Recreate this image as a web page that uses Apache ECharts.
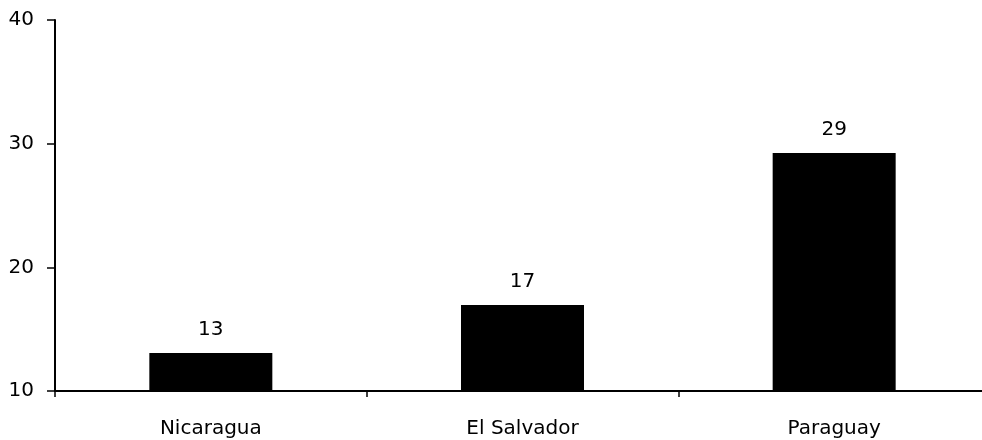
<!DOCTYPE html>
<html>
<head>
<meta charset="utf-8">
<script src="https://cdn.jsdelivr.net/npm/echarts@6/dist/echarts.min.js"></script>
<style>html,body{margin:0;padding:0;background:#fff}#c{width:982px;height:440px}</style>
</head>
<body>
<div id="c"></div>
<script>
const categories = ["Nicaragua", "El Salvador", "Paraguay"];
const values = [13.07, 16.95, 29.25];
const yTicks = [10, 20, 30, 40];

const chart = echarts.init(document.getElementById('c'), null, {renderer: 'canvas'});
const font = '"DejaVu Sans", sans-serif';
chart.setOption({
  animation: false,
  backgroundColor: '#fff',
  grid: {left: 55, width: 935, top: 20, bottom: 49, containLabel: false, outerBoundsMode: 'none'},
  xAxis: {
    type: 'category',
    data: categories,
    boundaryGap: true,
    axisLine: {lineStyle: {color: '#000', width: 2}},
    axisTick: {show: true, length: 6, lineStyle: {color: '#000', width: 1.5}},
    axisLabel: {color: '#000', fontFamily: font, fontSize: 20, margin: 28}
  },
  yAxis: {
    type: 'value',
    min: yTicks[0],
    max: yTicks[yTicks.length - 1],
    interval: 10,
    splitLine: {show: false},
    axisLine: {show: true, lineStyle: {color: '#000', width: 2}},
    axisTick: {show: true, length: 8, lineStyle: {color: '#000', width: 1.5}},
    axisLabel: {color: '#000', fontFamily: font, fontSize: 20, margin: 21}
  },
  series: [{
    type: 'bar',
    data: values,
    barWidth: 123,
    itemStyle: {color: '#000'},
    label: {
      show: true,
      position: 'top',
      distance: 13,
      color: '#000',
      fontFamily: font,
      fontSize: 20,
      formatter: p => Math.round(p.value)
    }
  }]
});
</script>
</body>
</html>
